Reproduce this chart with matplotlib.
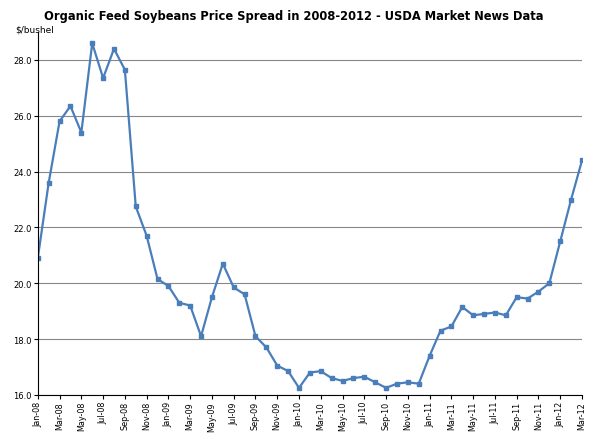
import matplotlib
matplotlib.use("Agg")
import matplotlib.pyplot as plt

months = []
for yr in range(8, 13):
    for m in ["Jan", "Feb", "Mar", "Apr", "May", "Jun", "Jul", "Aug", "Sep", "Oct", "Nov", "Dec"]:
        months.append(f"{m}-{yr:02d}")
months = months[:51]

prices = [
    20.9, 23.6, 25.8, 26.35, 25.4, 28.6, 27.35, 28.4, 27.65, 22.75, 21.7, 20.15,
    19.9, 19.3, 19.2, 18.1, 19.5, 20.7, 19.85, 19.6, 18.1, 17.7, 17.05, 16.85,
    16.25, 16.8, 16.85, 16.6, 16.5, 16.6, 16.65, 16.45, 16.25, 16.4, 16.45, 16.4,
    17.4, 18.3, 18.45, 19.15, 18.85, 18.9, 18.95, 18.85, 19.5, 19.45, 19.7, 20.0,
    21.5, 23.0, 24.4,
]
y_ticks = [16, 18, 20, 22, 24, 26, 28]

fig = plt.figure(figsize=(6.0, 4.35), dpi=100)
ax = fig.add_axes([0.063, 0.09, 0.907, 0.834])
x = list(range(len(prices)))
ax.plot(x, prices, color="#4a7ebb", lw=1.6, marker="s", ms=3.2)
ax.set_xlim(0, len(prices) - 1)
ax.set_ylim(16, 29)
ax.set_yticks(y_ticks, [f"{v:.1f}" for v in y_ticks], fontsize=6)
ax.set_xticks(x[::2], months[::2], rotation=90, fontsize=5.8)
ax.grid(axis="y", color="#888888", lw=0.8)
ax.tick_params(length=3, pad=1.5)
for s in ("top", "right"):
    ax.spines[s].set_visible(False)
fig.text(0.49, 0.955, "Organic Feed Soybeans Price Spread in 2008-2012 - USDA Market News Data",
         ha="center", fontsize=8.3, fontweight="bold")
fig.text(0.025, 0.925, "$/bushel", fontsize=6.5)
fig.savefig("out.png", dpi=100)
